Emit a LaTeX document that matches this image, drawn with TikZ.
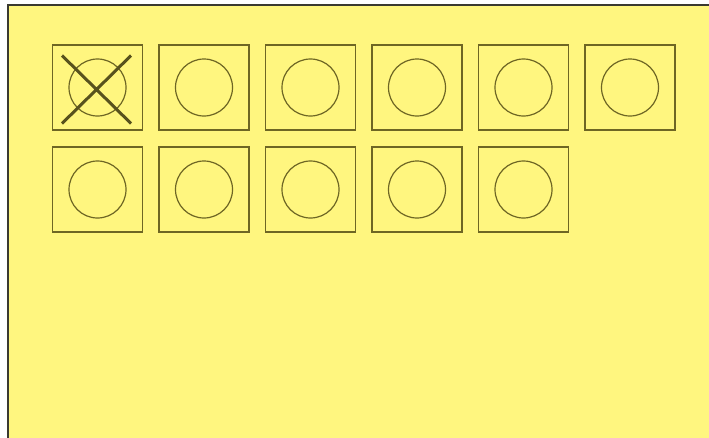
\documentclass[tikz,border=0pt]{standalone}
\usepackage{xcolor}
\usepackage{tikz}
\usetikzlibrary{shapes.misc}
\definecolor{padyellow}{HTML}{FFF67F}
\definecolor{olive}{HTML}{6E6624}
\definecolor{edgegray}{HTML}{3A3A30}

\begin{document}
\begin{tikzpicture}[x=1pt, y=-1pt,
  cell/.style={draw=olive, line width=1.4pt, minimum width=90pt, minimum height=85pt, inner sep=0pt},
  slot/.style={circle, draw=olive, line width=1.2pt, minimum size=57pt, inner sep=0pt},
  crossed/.style={cross out, draw=olive!80!black, line width=3pt, minimum width=66pt, minimum height=65pt, inner sep=0pt}
]
\useasboundingbox (0,0) rectangle (709,437);
\fill[white] (0,0) rectangle (709,437);
% pad
\filldraw[fill=padyellow, draw=edgegray, line width=1.5pt] (8,5) rectangle (715,445);

% first row: six cells
\foreach \i in {1,...,6} {
  \node[cell] (c1\i) at ({97.5+106.5*(\i-1)}, 87.5) {};
  \node[slot] (s1\i) at (c1\i) {};
}
% second row: five cells
\foreach \i in {1,...,5} {
  \node[cell] (c2\i) at ({97.5+106.5*(\i-1)}, 189.5) {};
  \node[slot] (s2\i) at (c2\i) {};
}
% first slot is marked
\node[crossed] (x11) at ([xshift=-1pt, yshift=-2pt]s11.center) {};
\end{tikzpicture}
\end{document}
